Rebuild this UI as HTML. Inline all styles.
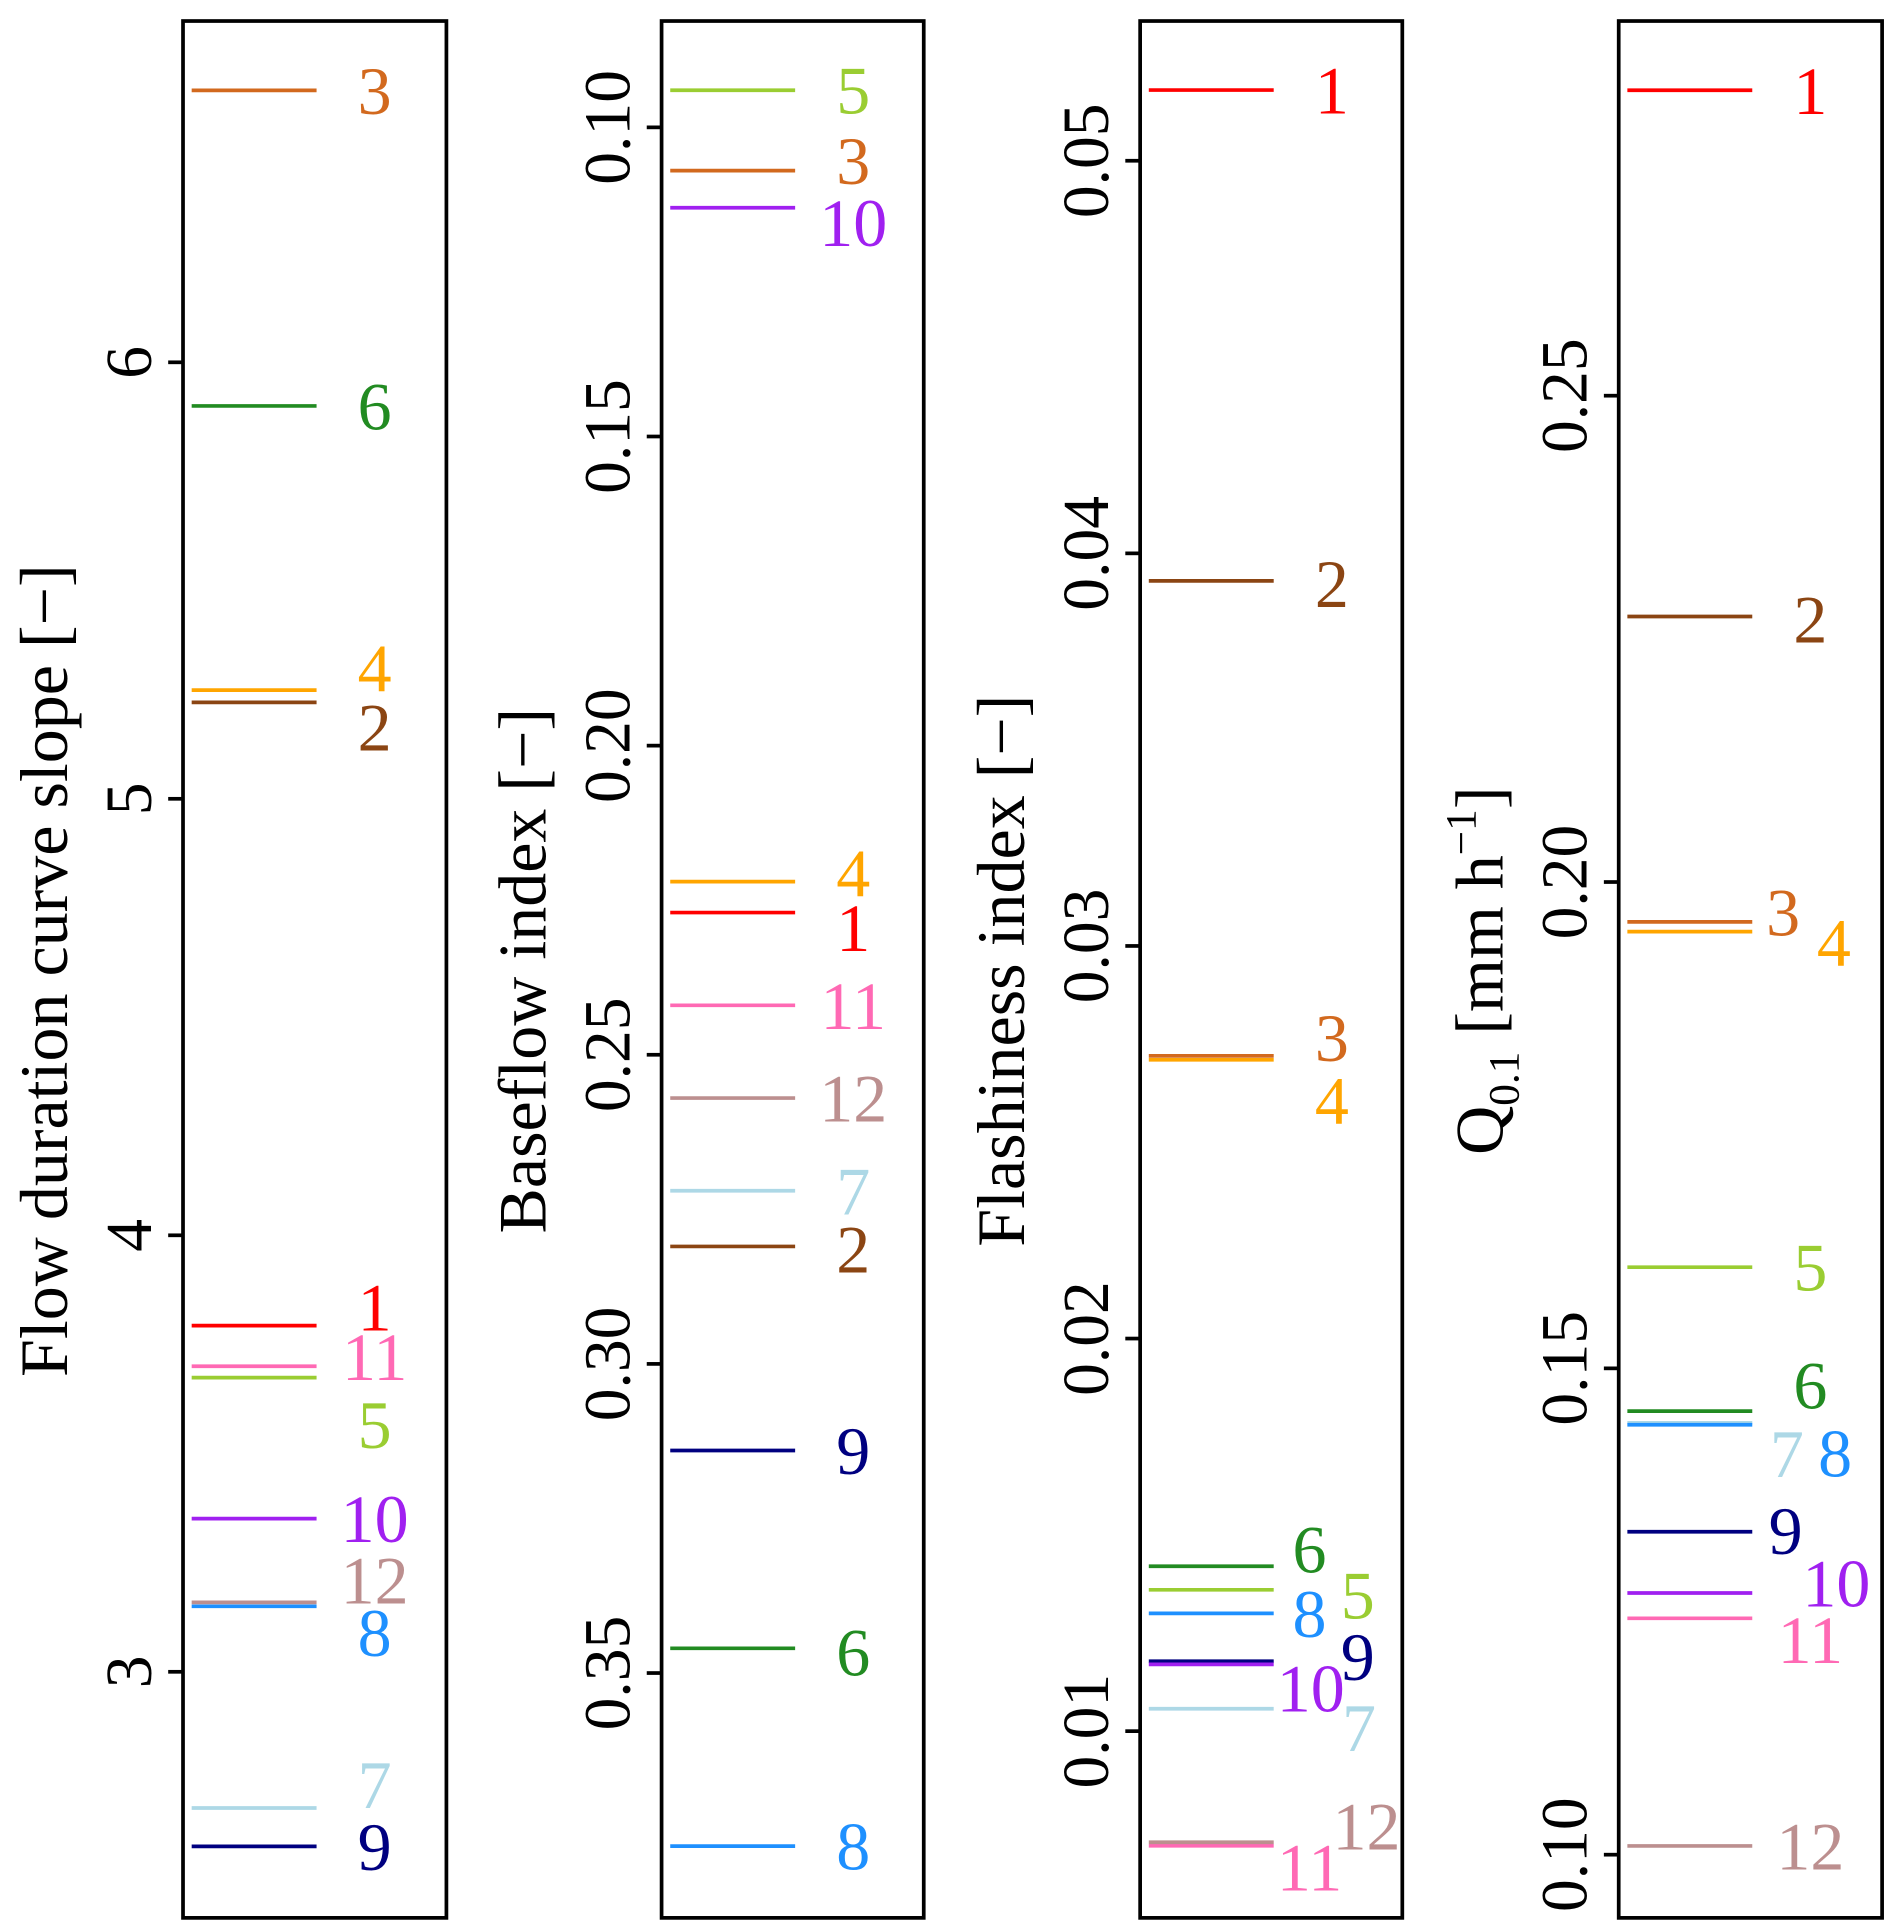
<!DOCTYPE html>
<html><head><meta charset="utf-8">
<style>
html,body{margin:0;padding:0;background:#fff;}
svg{display:block;}
text{font-family:"Liberation Serif",serif;}
</style></head>
<body>
<svg id="chart" width="1892" height="1929" viewBox="0 0 1530 1560" preserveAspectRatio="none" xmlns="http://www.w3.org/2000/svg"></svg>
<script>
const catchments = ["1","2","3","4","5","6","7","8","9","10","11","12"];
const colors = ["#FF0000","#8B4513","#D2691E","#FFA500","#9ACD32","#228B22","#ADD8E6","#1E90FF","#000080","#A020F0","#FF69B4","#BC8F8F"];

const fdcValues = [3.793,5.221,6.623,5.249,3.674,5.90,2.688,3.150,2.600,3.351,3.70,3.159];
const fdcTicks = [3,4,5,6];
const fdcTickLabels = ["3","4","5","6"];
const fdcLabelDy = [-15,20,0,-18,38,0,-19,21,0,0,-8,-18];
const fdcLabelDx = [0,0,0,0,0,0,0,0,0,0,0,0];

const bfiValues = [0.227,0.281,0.107,0.222,0.094,0.346,0.272,0.378,0.314,0.113,0.242,0.257];
const bfiTicks = [0.10,0.15,0.20,0.25,0.30,0.35];
const bfiTickLabels = ["0.10","0.15","0.20","0.25","0.30","0.35"];
const bfiLabelDy = [12,2,-8,-7,0,3,0,0,0,12,0,0];
const bfiLabelDx = [0,0,0,0,0,0,0,0,0,0,0,0];

const flashValues = [0.0518,0.0393,0.0272,0.0271,0.0136,0.0142,0.01057,0.0130,0.01178,0.0117,0.00708,0.00717];
const flashTicks = [0.01,0.02,0.03,0.04,0.05];
const flashTickLabels = ["0.01","0.02","0.03","0.04","0.05"];
const flashLabelDy = [0,2,-15,33,4,-14,15,0,-4,19,17,-13];
const flashLabelDx = [0,0,0,0,21,-18,22,-18,21,-17,-18,28];

const qValues = [0.2814,0.2273,0.1959,0.1949,0.1604,0.1456,0.1444,0.1442,0.1332,0.1269,0.1243,0.1009];
const qTicks = [0.10,0.15,0.20,0.25];
const qTickLabels = ["0.10","0.15","0.20","0.25"];
const qLabelDy = [0,2,-8,9,0,-21,25,23,-1,-8,17,0];
const qLabelDx = [0,0,-22,19,0,0,-19,20,-20,21,0,0];

const NS = "http://www.w3.org/2000/svg";
const svg = document.getElementById("chart");
const TOP = 17, BOT = 1551;
function mk(tag, attrs, parent){
  const e = document.createElementNS(NS, tag);
  for (const k in attrs) e.setAttribute(k, attrs[k]);
  parent.appendChild(e);
  return e;
}
function panel(cfg){
  const g = mk("g", {}, svg);
  
  
  const y = v => cfg.y0 + (v - cfg.v0) * cfg.scale;
  const box = mk("rect", {x:cfg.left, y:TOP, width:cfg.w, height:BOT-TOP, fill:"none", stroke:"#000", "stroke-width":3}, g);
  
  
  cfg.ticks.forEach((t, i) => {
    const ty = y(t);
    const tk = mk("line", {x1:cfg.left-12, x2:cfg.left, y1:ty, y2:ty, stroke:"#000", "stroke-width":3}, g);
    
    
    const tx = cfg.left - 26;
    const tl = mk("text", {x:tx, y:ty, "font-size":53, "text-anchor":"middle", transform:`rotate(-90 ${tx} ${ty})`}, g);
    tl.textContent = cfg.tickLabels[i];
    
    
  });
  const ax = cfg.left - 94, ay = 785;
  const title = mk("text", {x:ax, y:ay, "font-size":55, "text-anchor":"middle", transform:`rotate(-90 ${ax} ${ay})`}, g);
  
  
  if (cfg.titleHTML) { cfg.titleHTML(title); } else { title.textContent = cfg.title; }
  cfg.values.forEach((v, i) => {
    const ly = y(v);
    const ln = mk("line", {x1:cfg.left+7, x2:cfg.left+108, y1:ly, y2:ly, stroke:colors[i], "stroke-width":3}, g);
    
    
    const lx = cfg.left + 155 + cfg.dx[i];
    const lb = mk("text", {x:lx, y:ly + cfg.dy[i] + 19, "font-size":55, "text-anchor":"middle", fill:colors[i]}, g);
    lb.textContent = catchments[i];
    
    
  });
}
panel({name:"fdc-slope-panel", left:148, w:213, v0:6, y0:293, scale:-353, values:fdcValues, ticks:fdcTicks, tickLabels:fdcTickLabels, dy:fdcLabelDy, dx:fdcLabelDx, title:"Flow duration curve slope [\u2212]"});
panel({name:"baseflow-index-panel", left:535, w:212, v0:0.10, y0:103, scale:5000, values:bfiValues, ticks:bfiTicks, tickLabels:bfiTickLabels, dy:bfiLabelDy, dx:bfiLabelDx, title:"Baseflow index [\u2212]"});
panel({name:"flashiness-index-panel", left:922, w:212, v0:0.05, y0:130, scale:-31750, values:flashValues, ticks:flashTicks, tickLabels:flashTickLabels, dy:flashLabelDy, dx:flashLabelDx, title:"Flashiness index [\u2212]"});
panel({name:"q01-panel", left:1309, w:213, v0:0.25, y0:320, scale:-7866, values:qValues, ticks:qTicks, tickLabels:qTickLabels, dy:qLabelDy, dx:qLabelDx,
  titleHTML: t => {
    const parts = [["Q",0,55],["0.1",13,35],[" [mm h",-13,55],["\u22121",-22,35],["]",22,55]];
    parts.forEach(p => { const s = mk("tspan", {dy:p[1], "font-size":p[2]}, t); s.textContent = p[0]; });
  }});
</script>
</body></html>
